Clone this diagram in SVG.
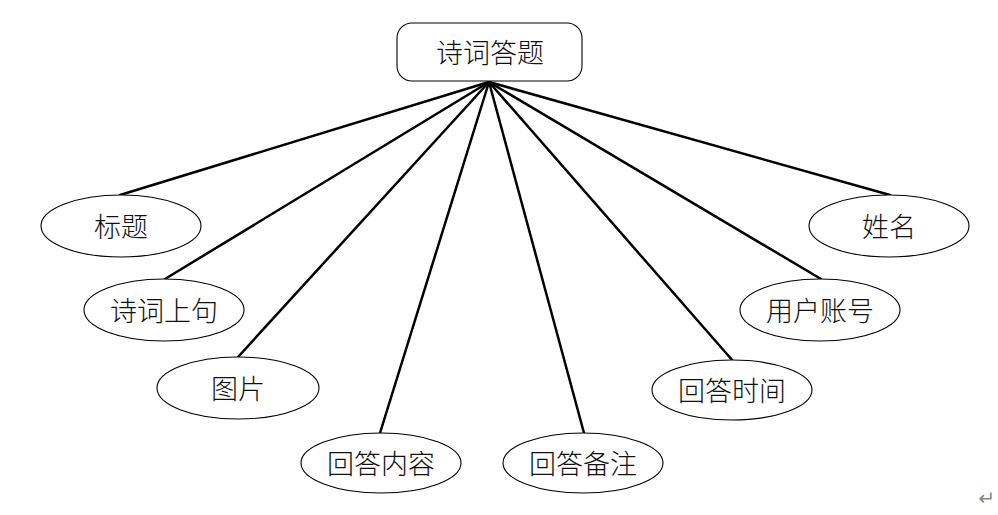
<svg xmlns="http://www.w3.org/2000/svg" width="998" height="515" viewBox="0 0 998 515">
<style>
.n{fill:#fff;stroke:#000;stroke-width:1.1}
.t{font-family:"Noto Sans CJK SC","Noto Sans",sans-serif;font-size:27px;font-weight:300;fill:#111;text-anchor:middle;dominant-baseline:central}
.c line{stroke:#000;stroke-width:2.5;stroke-linecap:round}
</style>
<rect width="998" height="515" fill="#fff"/>
<g class="c" id="connectors">
<line x1="489" y1="82" x2="120" y2="195"/>
<line x1="489" y1="82" x2="165" y2="279"/>
<line x1="489" y1="82" x2="238" y2="357"/>
<line x1="489" y1="82" x2="380" y2="433"/>
<line x1="489" y1="82" x2="584" y2="433"/>
<line x1="489" y1="82" x2="733" y2="361"/>
<line x1="489" y1="82" x2="821" y2="279"/>
<line x1="489" y1="82" x2="890" y2="195"/>
</g>
<g id="root"><rect class="n" x="397" y="23" width="185" height="58" rx="15"/><text class="t" x="490" y="51">诗词答题</text></g>
<g id="n1"><ellipse class="n" cx="121" cy="226" rx="80" ry="31"/><text class="t" x="121" y="225">标题</text></g>
<g id="n2"><ellipse class="n" cx="164" cy="310" rx="80" ry="31"/><text class="t" x="164" y="309">诗词上句</text></g>
<g id="n3"><ellipse class="n" cx="238" cy="388" rx="81" ry="31"/><text class="t" x="238" y="387">图片</text></g>
<g id="n4"><ellipse class="n" cx="381" cy="463" rx="80" ry="30"/><text class="t" x="381" y="462">回答内容</text></g>
<g id="n5"><ellipse class="n" cx="583" cy="463" rx="80" ry="30"/><text class="t" x="583" y="462">回答备注</text></g>
<g id="n6"><ellipse class="n" cx="732" cy="390" rx="80" ry="30"/><text class="t" x="732" y="389">回答时间</text></g>
<g id="n7"><ellipse class="n" cx="820" cy="310" rx="80" ry="31"/><text class="t" x="820" y="309">用户账号</text></g>
<g id="n8"><ellipse class="n" cx="889" cy="226" rx="80" ry="31"/><text class="t" x="889" y="225">姓名</text></g>
<text x="987" y="498" style="font-family:'DejaVu Sans',sans-serif;font-size:20px;fill:#888;text-anchor:middle;dominant-baseline:central">↵</text>
</svg>
